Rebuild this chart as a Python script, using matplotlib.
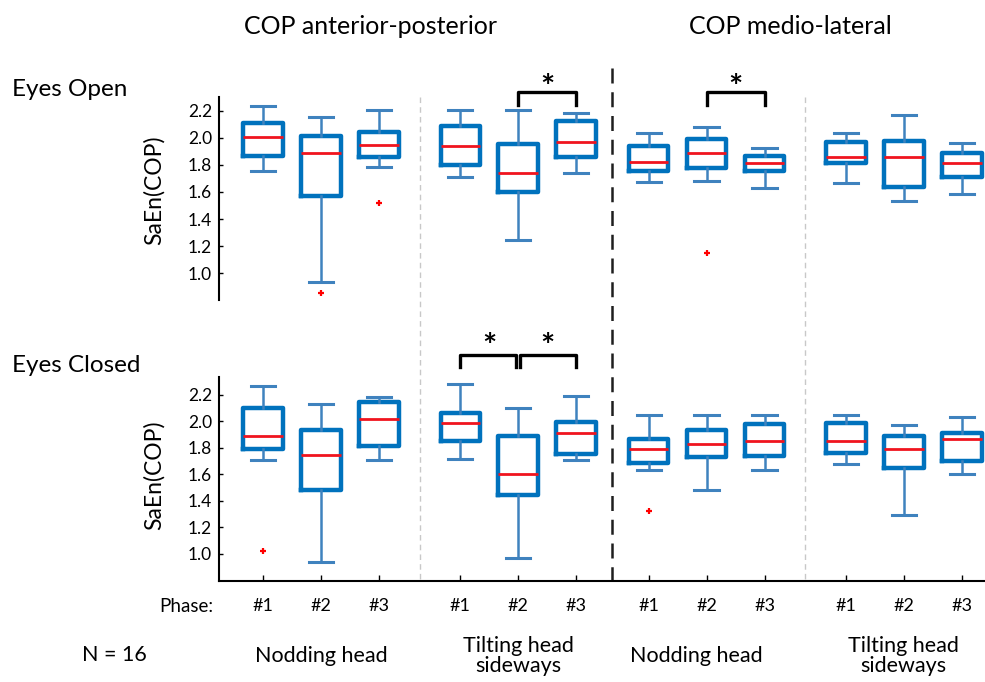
import numpy as np
import matplotlib
matplotlib.use("Agg")
import matplotlib.pyplot as plt
from matplotlib.transforms import blended_transform_factory

plt.rcParams['font.family'] = ['Lato', 'DejaVu Sans']

# order: AP nodding #1-3, AP tilting #1-3, ML nodding #1-3, ML tilting #1-3
phases = ["#1", "#2", "#3"] * 4
tasks = ["Nodding head", "Tilting head\nsideways", "Nodding head", "Tilting head\nsideways"]

# eyes open
eo_whishi = [2.235, 2.156, 2.205, 2.205, 2.205, 2.185, 2.038, 2.077, 1.927, 2.038, 2.166, 1.964]
eo_q3     = [2.110, 2.013, 2.040, 2.087, 1.952, 2.126, 1.939, 1.989, 1.866, 1.971, 1.979, 1.890]
eo_med    = [2.003, 1.890, 1.947, 1.942, 1.738, 1.967, 1.824, 1.890, 1.816, 1.860, 1.856, 1.812]
eo_q1     = [1.866, 1.570, 1.856, 1.800, 1.602, 1.856, 1.757, 1.777, 1.757, 1.816, 1.635, 1.713]
eo_whislo = [1.757, 0.938, 1.787, 1.713, 1.246, 1.738, 1.676, 1.681, 1.632, 1.664, 1.534, 1.585]
eo_fliers = [[], [0.853], [1.517], [], [], [], [], [1.147], [], [], [], []]

# eyes closed
ec_whishi = [2.268, 2.130, 2.182, 2.280, 2.104, 2.195, 2.049, 2.049, 2.049, 2.049, 1.971, 2.034]
ec_q3     = [2.104, 1.936, 2.145, 2.066, 1.893, 1.993, 1.868, 1.936, 1.981, 1.986, 1.893, 1.915]
ec_med    = [1.893, 1.750, 2.019, 1.991, 1.600, 1.915, 1.790, 1.830, 1.853, 1.850, 1.790, 1.866]
ec_q1     = [1.792, 1.483, 1.815, 1.855, 1.445, 1.755, 1.689, 1.730, 1.740, 1.760, 1.647, 1.704]
ec_whislo = [1.712, 0.937, 1.712, 1.717, 0.970, 1.709, 1.634, 1.483, 1.634, 1.679, 1.292, 1.604]
ec_fliers = [[1.023], [], [], [], [], [], [1.324], [], [], [], [], []]

# significance pairs (box indices)
eo_sig = [(4, 5), (7, 8)]
ec_sig = [(3, 4), (4, 5)]

group_starts = [1.0, 4.4, 7.65, 11.05]
pos = np.array([g + i for g in group_starts for i in range(3)])

W, H = 985, 682
fig = plt.figure(figsize=(W / 100, H / 100), dpi=100)

def fx(px):
    return px / W

def fy(py):
    return 1 - py / H

box_blue = "#0072BD"
whisk_blue = "#3F82BE"

def make_stats(hi, q3, med, q1, lo, fl):
    st = []
    for k in range(len(med)):
        st.append(dict(med=med[k], q1=q1[k], q3=q3[k], whislo=lo[k], whishi=hi[k],
                       fliers=fl[k]))
    return st

def panel(rect, ylim, stats, bottom_axis, label_y):
    ax = fig.add_axes(rect)
    ax.bxp(stats, positions=pos, widths=0.68, showfliers=True,
           boxprops=dict(color=box_blue, linewidth=3.2),
           whiskerprops=dict(color=whisk_blue, linewidth=1.8),
           capprops=dict(color=whisk_blue, linewidth=2.2),
           capwidths=0.42,
           medianprops=dict(color="#F0141E", linewidth=2.0),
           flierprops=dict(marker="+", markeredgecolor="red", markersize=5, markeredgewidth=1.6))
    ax.set_xlim(0.24, 13.45)
    ax.set_ylim(*ylim)
    ax.set_yticks(np.arange(1.0, 2.21, 0.2))
    ax.set_yticklabels(["%.1f" % v for v in np.arange(1.0, 2.21, 0.2)], fontsize=12.5)
    ax.tick_params(axis="y", direction="in", length=3, width=1, pad=5)
    ax.spines["top"].set_visible(False)
    ax.spines["right"].set_visible(False)
    ax.spines["left"].set_linewidth(1.5)
    if bottom_axis:
        ax.spines["bottom"].set_linewidth(1.5)
        ax.set_xticks(pos)
        ax.set_xticklabels([])
        ax.tick_params(axis="x", direction="in", length=4, width=1)
    else:
        ax.spines["bottom"].set_visible(False)
        ax.set_xticks([])
    ax.set_ylabel("SaEn(COP)", fontsize=16.5)
    ax.yaxis.set_label_coords(-0.0705, label_y)
    ax.patch.set_alpha(0)
    return ax

ax1 = panel([fx(219), fy(300), fx(W - 219), fy(96.7) - fy(300)], (0.803, 2.303),
            make_stats(eo_whishi, eo_q3, eo_med, eo_q1, eo_whislo, eo_fliers), False, 0.54)
ax2 = panel([fx(219), fy(581), fx(W - 219), fy(376.7) - fy(581)], (0.796, 2.338),
            make_stats(ec_whishi, ec_q3, ec_med, ec_q1, ec_whislo, ec_fliers), True, 0.52)

# separators spanning both panels
tr = blended_transform_factory(ax2.transData, fig.transFigure)
for a, b in [(2, 3), (8, 9)]:
    xm = (pos[a] + pos[b]) / 2
    ax2.plot([xm, xm], [fy(97), fy(581)], transform=tr, color="#C8C8C8",
             linestyle=(0, (4, 3)), linewidth=1.0, clip_on=False)
xm = (pos[5] + pos[6]) / 2
ax2.plot([xm, xm], [fy(68), fy(581)], transform=tr, color="#1E1E1E",
         linestyle=(0, (6, 3.5)), linewidth=1.8, clip_on=False)

def brackets(ax, pairs, ytop, yleg, ystar):
    for k, (a, b) in enumerate(pairs):
        xa, xb = pos[a], pos[b]
        if k > 0 and pairs[k - 1][1] == a:
            xa += 0.03
        if k + 1 < len(pairs) and pairs[k + 1][0] == b:
            xb -= 0.03
        ax.plot([xa, xa, xb, xb], [yleg, ytop, ytop, yleg], color="black",
                linewidth=2.4, clip_on=False, solid_joinstyle="round")
        ax.text((pos[a] + pos[b]) / 2, ystar, "*", ha="center", va="center",
                fontsize=24, fontweight="bold")

brackets(ax1, eo_sig, 2.340, 2.242, 2.36)
brackets(ax2, ec_sig, 2.502, 2.414, 2.56)

# headers
fig.text(fx(370), fy(27), "COP anterior-posterior", ha="center", va="center", fontsize=18)
fig.text(fx(790), fy(27), "COP medio-lateral", ha="center", va="center", fontsize=18)
fig.text(fx(12), fy(90), "Eyes Open", ha="left", va="center", fontsize=17.5)
fig.text(fx(12), fy(366), "Eyes Closed", ha="left", va="center", fontsize=17.5)

# phase labels
trx = blended_transform_factory(ax2.transData, fig.transFigure)
for p, lab in zip(pos, phases):
    ax2.text(p, fy(606), lab, transform=trx, ha="center", va="center", fontsize=13)
fig.text(fx(213), fy(606), "Phase:", ha="right", va="center", fontsize=13.5)

# task labels
for g, lab in enumerate(tasks):
    xc = pos[3 * g + 1] - (0.18 if g == 2 else 0)
    ax2.text(xc, fy(656), lab, transform=trx, ha="center", va="center",
             fontsize=15.5, linespacing=0.95)
fig.text(fx(114), fy(655), "N = 16", ha="center", va="center", fontsize=15.5)

fig.savefig("out.png", dpi=100)
